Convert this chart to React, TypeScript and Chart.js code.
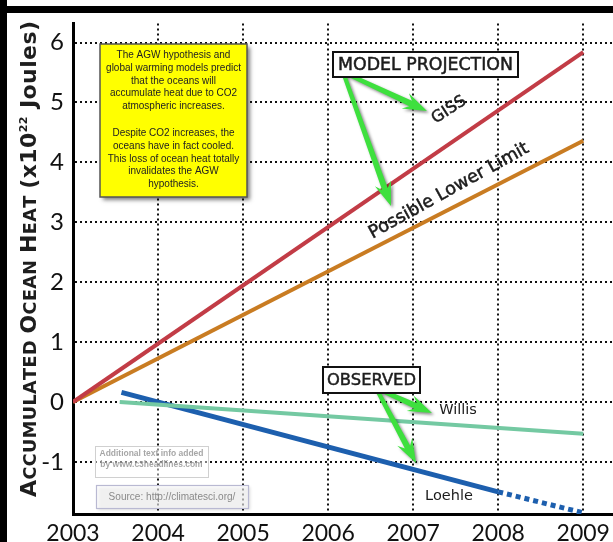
import React, { useEffect, useRef } from 'react';
import { Chart, registerables } from 'chart.js';

Chart.register(...registerables);

// ---- data ----
const xTickYears = [2003, 2004, 2005, 2006, 2007, 2008, 2009];
const yTickValues = [-1, 0, 1, 2, 3, 4, 5, 6];

const gissYears = [2003, 2009];
const gissHeat = [0, 5.84];

const lowerYears = [2003, 2009];
const lowerHeat = [0, 4.36];

const willisYears = [2003.55, 2009];
const willisHeat = [0, -0.53];

const loehleYears = [2003.57, 2008, 2009];
const loehleHeat = [0.16, -1.5, -1.85];

const xMin = 2003;
const xMax = 2009.35;
const yMin = -1.87;
const yMax = 6.32;

const infoLines = [
  'The AGW hypothesis and',
  'global warming models predict',
  'that the oceans will',
  'accumulate heat due to CO2',
  'atmospheric increases.',
  '',
  'Despite CO2 increases, the',
  'oceans have in fact cooled.',
  'This loss of ocean heat totally',
  'invalidates the AGW',
  'hypothesis.',
];

const toPts = (xs: number[], ys: number[]) => xs.map((x, i) => ({ x, y: ys[i] }));

function fitSize(ctx: CanvasRenderingContext2D, text: string, family: string, weight: string, target: number) {
  ctx.font = `${weight} 20px ${family}`;
  const w = ctx.measureText(text).width;
  return (20 * target) / w;
}

function arrow(ctx: CanvasRenderingContext2D, x0: number, y0: number, x1: number, y1: number) {
  const shaft = 6, headW = 17, headL = 24;
  const dx = x1 - x0, dy = y1 - y0;
  const L = Math.hypot(dx, dy);
  const ux = dx / L, uy = dy / L;
  const nx = -uy, ny = ux;
  const bx = x1 - ux * headL, by = y1 - uy * headL;
  const cx = x1 - ux * (headL - 6), cy = y1 - uy * (headL - 6);
  ctx.beginPath();
  ctx.moveTo(x0 + (nx * shaft) / 3, y0 + (ny * shaft) / 3);
  ctx.lineTo(cx + (nx * shaft) / 2, cy + (ny * shaft) / 2);
  ctx.lineTo(bx + (nx * headW) / 2, by + (ny * headW) / 2);
  ctx.lineTo(x1, y1);
  ctx.lineTo(bx - (nx * headW) / 2, by - (ny * headW) / 2);
  ctx.lineTo(cx - (nx * shaft) / 2, cy - (ny * shaft) / 2);
  ctx.lineTo(x0 - (nx * shaft) / 3, y0 - (ny * shaft) / 3);
  ctx.closePath();
  ctx.fill();
}

const annotPlugin = {
  id: 'annotations',
  afterDraw(chart: any) {
    const ctx: CanvasRenderingContext2D = chart.ctx;
    const W = chart.width, H = chart.height;
    ctx.save();

    // outer frame
    ctx.fillStyle = '#000';
    ctx.fillRect(0, 6, W, 7);
    ctx.fillRect(0, 0, 7, H);

    // y-axis title (small caps)
    const fam = '"DejaVu Sans", Verdana, sans-serif';
    const B = 22;
    const segs = [
      { t: 'A', k: 'b' }, { t: 'CCUMULATED ', k: 's' },
      { t: 'O', k: 'b' }, { t: 'CEAN ', k: 's' },
      { t: 'H', k: 'b' }, { t: 'EAT ', k: 's' },
      { t: '(x10', k: 'b' }, { t: '22', k: 'p' }, { t: ' Joules)', k: 'b' },
    ];
    const fontFor = (k: string) =>
      k === 'b' ? `bold ${B}px ${fam}` : k === 's' ? `bold ${B * 0.8}px ${fam}` : `bold ${B * 0.5}px ${fam}`;
    const chars: { c: string; f: string; dy: number; w: number }[] = [];
    for (const sg of segs) {
      ctx.font = fontFor(sg.k);
      for (const c of sg.t) {
        chars.push({ c, f: ctx.font, dy: sg.k === 'p' ? -B * 0.42 : 0, w: ctx.measureText(c).width });
      }
    }
    const natural = chars.reduce((a, c) => a + c.w, 0);
    const targetLen = 476;
    const extra = Math.max(0, (targetLen - natural) / (chars.length - 1));
    const total = natural + extra * (chars.length - 1);
    ctx.save();
    ctx.translate(36, 259);
    ctx.rotate(-Math.PI / 2);
    ctx.fillStyle = '#1e1e1e';
    ctx.textBaseline = 'alphabetic';
    ctx.textAlign = 'left';
    let cx = -total / 2;
    for (const ch of chars) {
      ctx.font = ch.f;
      ctx.fillText(ch.c, cx, ch.dy);
      cx += ch.w + extra;
    }
    ctx.restore();

    // x tick labels
    const xs = chart.scales.x;
    ctx.fillStyle = '#111';
    ctx.font = '23px Lato, sans-serif';
    ctx.textAlign = 'center';
    ctx.textBaseline = 'alphabetic';
    for (const yr of xTickYears) {
      ctx.fillText(String(yr), xs.getPixelForValue(yr), 541);
    }

    // yellow info box
    ctx.save();
    ctx.shadowColor = 'rgba(0,0,0,0.5)';
    ctx.shadowBlur = 4;
    ctx.shadowOffsetX = 3;
    ctx.shadowOffsetY = 3;
    ctx.fillStyle = '#ffff00';
    ctx.fillRect(100, 44, 147, 153);
    ctx.restore();
    ctx.strokeStyle = '#555';
    ctx.lineWidth = 1.5;
    ctx.strokeRect(100, 44, 147, 153);
    const infoSize = fitSize(ctx, 'global warming models predict', '"Liberation Sans", Arial, sans-serif', 'normal', 135);
    ctx.font = `${infoSize}px "Liberation Sans", Arial, sans-serif`;
    ctx.fillStyle = '#222';
    ctx.textAlign = 'center';
    ctx.textBaseline = 'middle';
    infoLines.forEach((ln, i) => {
      if (!ln) return;
      const y = i < 5 ? 55.5 + i * 12.7 : 133.5 + (i - 6) * 12.7;
      ctx.fillText(ln, 173.5, y);
    });

    // green arrows
    ctx.save();
    ctx.shadowColor = 'rgba(0,0,0,0.45)';
    ctx.shadowBlur = 3;
    ctx.shadowOffsetX = 2;
    ctx.shadowOffsetY = 2;
    ctx.fillStyle = '#3ee03e';
    arrow(ctx, 343, 72, 427, 111);
    arrow(ctx, 343, 72, 391, 206);
    arrow(ctx, 376, 388, 432, 413);
    arrow(ctx, 376, 388, 416, 463);
    ctx.restore();

    const labelFam = '"DejaVu Sans", Verdana, sans-serif';
    const darkText = (text: string, x: number, y: number) => {
      ctx.fillText(text, x, y);
      ctx.lineWidth = 0.5;
      ctx.strokeStyle = '#1c1c1c';
      ctx.strokeText(text, x, y);
    };
    // MODEL PROJECTION box
    ctx.fillStyle = '#fff';
    ctx.fillRect(333, 52, 185, 25);
    ctx.strokeStyle = '#111';
    ctx.lineWidth = 2;
    ctx.strokeRect(333, 52, 185, 25);
    ctx.fillStyle = '#1c1c1c';
    let s = fitSize(ctx, 'MODEL PROJECTION', labelFam, 'normal', 175);
    ctx.font = `${s}px ${labelFam}`;
    ctx.textAlign = 'center';
    ctx.textBaseline = 'middle';
    darkText('MODEL PROJECTION', 425.5, 65.5);

    // OBSERVED box
    ctx.fillStyle = '#fff';
    ctx.fillRect(323, 367, 97, 26);
    ctx.strokeStyle = '#111';
    ctx.lineWidth = 2;
    ctx.strokeRect(323, 367, 97, 26);
    ctx.fillStyle = '#1c1c1c';
    s = fitSize(ctx, 'OBSERVED', labelFam, 'normal', 89);
    ctx.font = `${s}px ${labelFam}`;
    darkText('OBSERVED', 371.5, 380.5);

    // rotated labels
    const rot = (text: string, x: number, y: number, deg: number, size: number, bold: boolean) => {
      ctx.save();
      ctx.translate(x, y);
      ctx.rotate((deg * Math.PI) / 180);
      ctx.font = `${size}px ${labelFam}`;
      ctx.fillStyle = '#1c1c1c';
      ctx.textAlign = 'center';
      ctx.textBaseline = 'middle';
      if (bold) darkText(text, 0, 0);
      else ctx.fillText(text, 0, 0);
      ctx.restore();
    };
    rot('GISS', 449, 110, -33, 16, true);
    const pll = fitSize(ctx, 'Possible Lower Limit', labelFam, 'normal', 180);
    rot('Possible Lower Limit', 449, 191, -29, pll, true);
    rot('Willis', 458, 410, 0, 14.5, false);
    rot('Loehle', 449, 496, 0, 14.5, false);

    // credit boxes
    ctx.fillStyle = 'rgba(255,255,255,0.45)';
    ctx.fillRect(95, 446, 113, 31);
    ctx.strokeStyle = '#d0d0d0';
    ctx.lineWidth = 1;
    ctx.strokeRect(95.5, 446.5, 113, 31);
    const cs = fitSize(ctx, 'Additional text info added', '"Liberation Sans", Arial, sans-serif', 'bold', 104);
    ctx.font = `bold ${cs}px "Liberation Sans", Arial, sans-serif`;
    ctx.fillStyle = 'rgba(150,150,150,0.85)';
    ctx.textAlign = 'center';
    ctx.fillText('Additional text info added', 151.5, 454);
    ctx.fillText('by www.c3headlines.com', 151.5, 465);

    ctx.save();
    ctx.shadowColor = 'rgba(0,0,0,0.25)';
    ctx.shadowBlur = 3;
    ctx.shadowOffsetX = 2;
    ctx.shadowOffsetY = 2;
    ctx.fillStyle = 'rgba(255,255,255,0.6)';
    ctx.fillRect(96, 485, 152, 23);
    ctx.restore();
    ctx.strokeStyle = '#b9b9d2';
    ctx.lineWidth = 1.2;
    ctx.strokeRect(96.5, 485.5, 152, 23);
    const ss = fitSize(ctx, 'Source: http://climatesci.org/', '"Liberation Sans", Arial, sans-serif', 'normal', 127);
    ctx.font = `${ss}px "Liberation Sans", Arial, sans-serif`;
    ctx.fillStyle = '#8a8a8a';
    ctx.fillText('Source: http://climatesci.org/', 172, 497);

    ctx.restore();
  },
};

export default function App() {
  const ref = useRef<HTMLCanvasElement | null>(null);

  useEffect(() => {
    if (!ref.current) return;
    const chart = new Chart(ref.current, {
      type: 'line',
      data: {
        datasets: [
          { label: 'GISS', data: toPts(gissYears, gissHeat), borderColor: '#c23c46', borderWidth: 4, pointRadius: 0 },
          { label: 'Possible Lower Limit', data: toPts(lowerYears, lowerHeat), borderColor: '#c97c22', borderWidth: 4, pointRadius: 0 },
          { label: 'Willis', data: toPts(willisYears, willisHeat), borderColor: '#74c9a2', borderWidth: 4, pointRadius: 0 },
          {
            label: 'Loehle',
            data: toPts(loehleYears, loehleHeat),
            borderColor: '#1d5fae',
            borderWidth: 5,
            pointRadius: 0,
            segment: { borderDash: (c: any) => (c.p0DataIndex === 1 ? [5, 4] : undefined) },
          },
        ],
      },
      options: {
        animation: false,
        responsive: false,
        devicePixelRatio: 1,
        layout: { padding: { top: 13, left: 0, right: 0, bottom: 0 } },
        plugins: { legend: { display: false }, tooltip: { enabled: false }, title: { display: false } },
        elements: { line: { tension: 0, borderCapStyle: 'butt' } },
        scales: {
          x: {
            type: 'linear',
            min: xMin,
            max: xMax,
            afterBuildTicks: (sc: any) => { sc.ticks = xTickYears.map((v) => ({ value: v })); },
            afterFit: (sc: any) => { sc.height = 28; },
            ticks: { display: false },
            grid: { color: '#111', lineWidth: 2, drawTicks: false },
            border: { display: true, color: '#000', width: 3, dash: [2, 3] },
          },
          y: {
            type: 'linear',
            min: yMin,
            max: yMax,
            afterBuildTicks: (sc: any) => { sc.ticks = yTickValues.map((v) => ({ value: v })); },
            afterFit: (sc: any) => { sc.width = 73; },
            ticks: {
              color: '#111',
              padding: 9,
              font: { family: 'Lato, sans-serif', size: 24 },
              callback: (v: any) => String(v),
            },
            grid: { color: '#111', lineWidth: 2, drawTicks: false },
            border: { display: true, color: '#000', width: 3, dash: [2, 3] },
          },
        },
      },
      plugins: [annotPlugin],
    } as any);
    return () => chart.destroy();
  }, []);

  return (
    <div style={{ position: 'fixed', left: 0, top: 0, width: 613, height: 542, background: '#fff' }}>
      <canvas ref={ref} width={613} height={542} style={{ width: 613, height: 542, display: 'block' }} />
    </div>
  );
}
